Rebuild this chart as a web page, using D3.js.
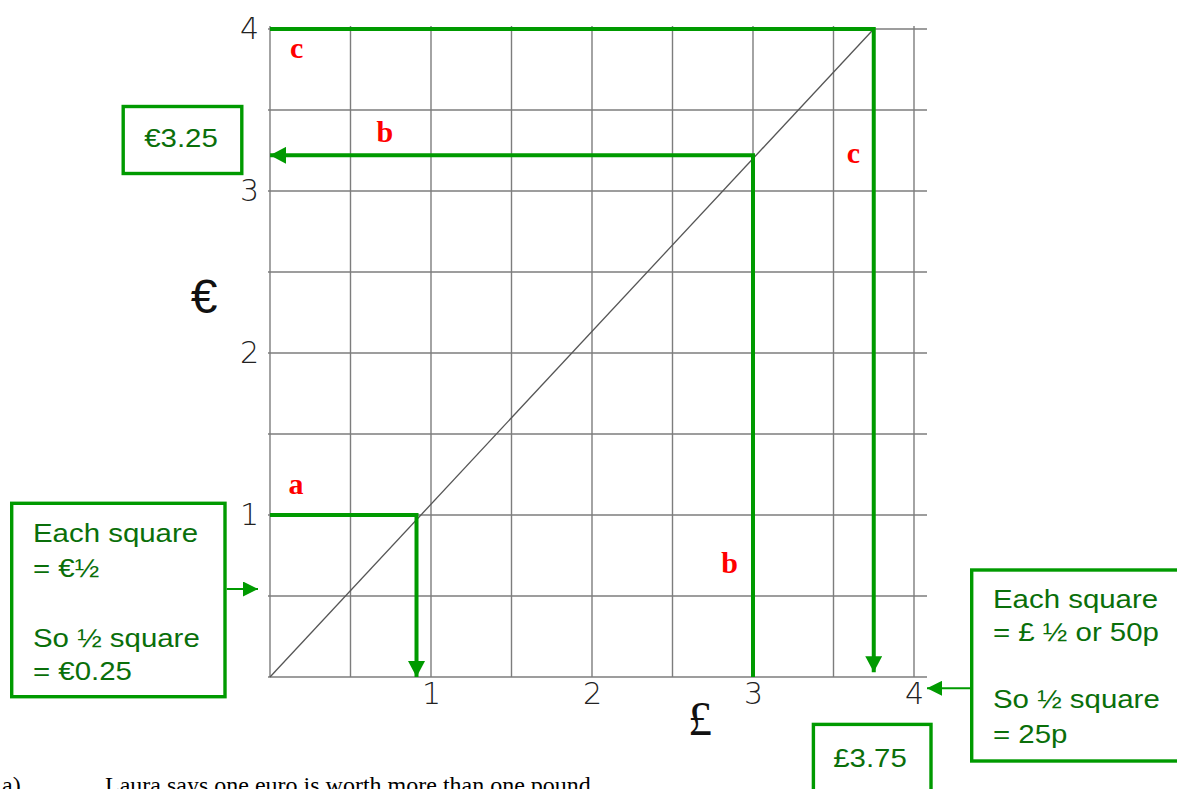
<!DOCTYPE html>
<html>
<head>
<meta charset="utf-8">
<script src="https://cdn.jsdelivr.net/npm/d3@7"></script>
<style>
  html, body { margin: 0; padding: 0; background: #fff; }
  svg { display: block; }
</style>
</head>
<body>
<svg id="chart" width="1177" height="789"></svg>
<script>
// ---------- DATA ----------
const gridSteps = [0, 0.5, 1, 1.5, 2, 2.5, 3, 3.5, 4];
const poundTicks = [1, 2, 3, 4];
const euroTicks = [1, 2, 3, 4];
// conversion line (pounds -> euros)
const ratePounds = [0, 3.75];
const rateEuros = [0, 4];
// part a: €1 -> £
const aPounds = [0, 0.91, 0.91];
const aEuros = [1, 1, 0];
// part b: £3 -> €
const bPounds = [3, 3, 0];
const bEuros = [0, 3.22, 3.22];
// part c: €4 -> £
const cPounds = [0, 3.75, 3.75];
const cEuros = [4, 4, 0.03];

const leftBoxLines = ["Each square", "= €½", "So ½ square", "= €0.25"];
const rightBoxLines = ["Each square", "= £ ½ or 50p", "So ½ square", "= 25p"];
const euroAnswer = "€3.25";
const poundAnswer = "£3.75";
const questionLabel = "a)";
const questionText = "Laura says one euro is worth more than one pound";

// ---------- SETUP ----------
const svg = d3.select("#chart");
const GREEN = "#009a00";
const TEXTGREEN = "#0a6f0a";
const RED = "#ff0000";

const x = d3.scaleLinear().domain([0, 4]).range([270, 914]);
const y = d3.scaleLinear().domain([0, 4]).range([677, 29]);

const defs = svg.append("defs");
function marker(id, len, wid) {
  defs.append("marker")
    .attr("id", id)
    .attr("markerUnits", "userSpaceOnUse")
    .attr("markerWidth", len).attr("markerHeight", wid)
    .attr("refX", len).attr("refY", wid / 2)
    .attr("orient", "auto")
    .append("path")
    .attr("d", `M0,0 L${len},${wid / 2} L0,${wid} Z`)
    .attr("fill", GREEN);
}
marker("arrowBig", 16, 17);
marker("arrowSmall", 15, 15);

// ---------- GRID ----------
const grid = svg.append("g").attr("stroke", "#7d7d7d").attr("stroke-width", 1.4);
grid.selectAll("line.v").data(gridSteps).join("line")
  .attr("class", "v")
  .attr("x1", d => x(d)).attr("x2", d => x(d))
  .attr("y1", y(4) - 3).attr("y2", y(0));
grid.selectAll("line.h").data(gridSteps).join("line")
  .attr("class", "h")
  .attr("x1", x(0) - 2).attr("x2", x(4) + 13)
  .attr("y1", d => y(d)).attr("y2", d => y(d));

// ---------- AXES (tick labels only) ----------
const tickFont = "'DejaVu Sans', sans-serif";
const xAxis = svg.append("g")
  .attr("transform", `translate(0,${y(0)})`)
  .call(d3.axisBottom(x).tickValues(poundTicks).tickSize(0).tickPadding(6).tickFormat(d3.format("d")));
const yAxis = svg.append("g")
  .attr("transform", `translate(${x(0)},0)`)
  .call(d3.axisLeft(y).tickValues(euroTicks).tickSize(0).tickPadding(11).tickFormat(d3.format("d")));
[xAxis, yAxis].forEach(g => {
  g.select(".domain").remove();
  g.selectAll("text")
    .attr("font-family", tickFont)
    .attr("font-weight", 200)
    .attr("font-size", 30)
    .attr("fill", "#222");
});

svg.append("text")
  .attr("x", 204).attr("y", 313)
  .attr("text-anchor", "middle")
  .attr("font-family", "'Liberation Sans', Arial, sans-serif")
  .attr("font-size", 48).attr("fill", "#111")
  .text("€");
svg.append("text")
  .attr("x", 700).attr("y", 735)
  .attr("text-anchor", "middle")
  .attr("font-family", "'Liberation Serif', 'Times New Roman', serif")
  .attr("font-size", 48).attr("fill", "#111")
  .text("£");

// ---------- CONVERSION LINE ----------
const line = d3.line().x(d => x(d[0])).y(d => y(d[1]));
svg.append("path")
  .datum(d3.zip(ratePounds, rateEuros))
  .attr("d", line)
  .attr("fill", "none")
  .attr("stroke", "#555")
  .attr("stroke-width", 1.3);

// ---------- GREEN READING LINES ----------
[[aPounds, aEuros], [bPounds, bEuros], [cPounds, cEuros]].forEach(([p, e]) => {
  svg.append("path")
    .datum(d3.zip(p, e))
    .attr("d", line)
    .attr("fill", "none")
    .attr("stroke", GREEN)
    .attr("stroke-width", 4)
    .attr("stroke-linejoin", "miter")
    .attr("marker-end", "url(#arrowBig)");
});

// ---------- RED LETTERS ----------
const letters = [
  { t: "c", px: 0.165, eu: 3.82 },
  { t: "b", px: 0.714, eu: 3.30 },
  { t: "c", px: 3.624, eu: 3.173 },
  { t: "b", px: 2.854, eu: 0.642 },
  { t: "a", px: 0.161, eu: 1.13 }
];
svg.selectAll("text.letter").data(letters).join("text")
  .attr("class", "letter")
  .attr("x", d => x(d.px)).attr("y", d => y(d.eu))
  .attr("text-anchor", "middle")
  .attr("font-family", "'Liberation Serif', 'Times New Roman', serif")
  .attr("font-weight", "bold")
  .attr("font-size", 30)
  .attr("fill", RED)
  .text(d => d.t);

// ---------- BOXES ----------
function box(x0, y0, x1, y1) {
  svg.append("rect")
    .attr("x", x0).attr("y", y0)
    .attr("width", x1 - x0).attr("height", y1 - y0)
    .attr("fill", "#fff")
    .attr("stroke", GREEN).attr("stroke-width", 3.4);
}
function boxText(str, tx, ty, anchor) {
  svg.append("text")
    .attr("transform", `translate(${tx},${ty}) scale(1.11,1)`)
    .attr("text-anchor", anchor || "start")
    .attr("font-family", "'Liberation Sans', Arial, sans-serif")
    .attr("font-size", 26.5)
    .attr("fill", TEXTGREEN)
    .text(str);
}

// left info box + arrow
box(11.7, 503.3, 225, 696.7);
[541.7, 576.7, 646.7, 680].forEach((by, i) => boxText(leftBoxLines[i], 33, by));
svg.append("line")
  .attr("x1", 226.7).attr("x2", 258).attr("y1", 589).attr("y2", 589)
  .attr("stroke", GREEN).attr("stroke-width", 2)
  .attr("marker-end", "url(#arrowSmall)");

// right info box + arrow
box(971.7, 570, 1180, 761);
[608.3, 640.7, 708.3, 742.7].forEach((by, i) => boxText(rightBoxLines[i], 993, by));
svg.append("line")
  .attr("x1", 970).attr("x2", 927).attr("y1", 688.3).attr("y2", 688.3)
  .attr("stroke", GREEN).attr("stroke-width", 2)
  .attr("marker-end", "url(#arrowSmall)");

// answer boxes
box(123.2, 106.5, 241.8, 173.5);
boxText(euroAnswer, 181, 147, "middle");
box(813.4, 724.4, 931, 800);
boxText(poundAnswer, 870, 766.7, "middle");

// ---------- QUESTION TEXT (cut off at bottom, as in the source) ----------
svg.append("text")
  .attr("x", 2).attr("y", 793)
  .attr("font-family", "'Liberation Serif', 'Times New Roman', serif")
  .attr("font-size", 24).attr("fill", "#000")
  .text(questionLabel);
svg.append("text")
  .attr("x", 105).attr("y", 793)
  .attr("font-family", "'Liberation Serif', 'Times New Roman', serif")
  .attr("font-size", 24).attr("fill", "#000")
  .text(questionText);
</script>
</body>
</html>
